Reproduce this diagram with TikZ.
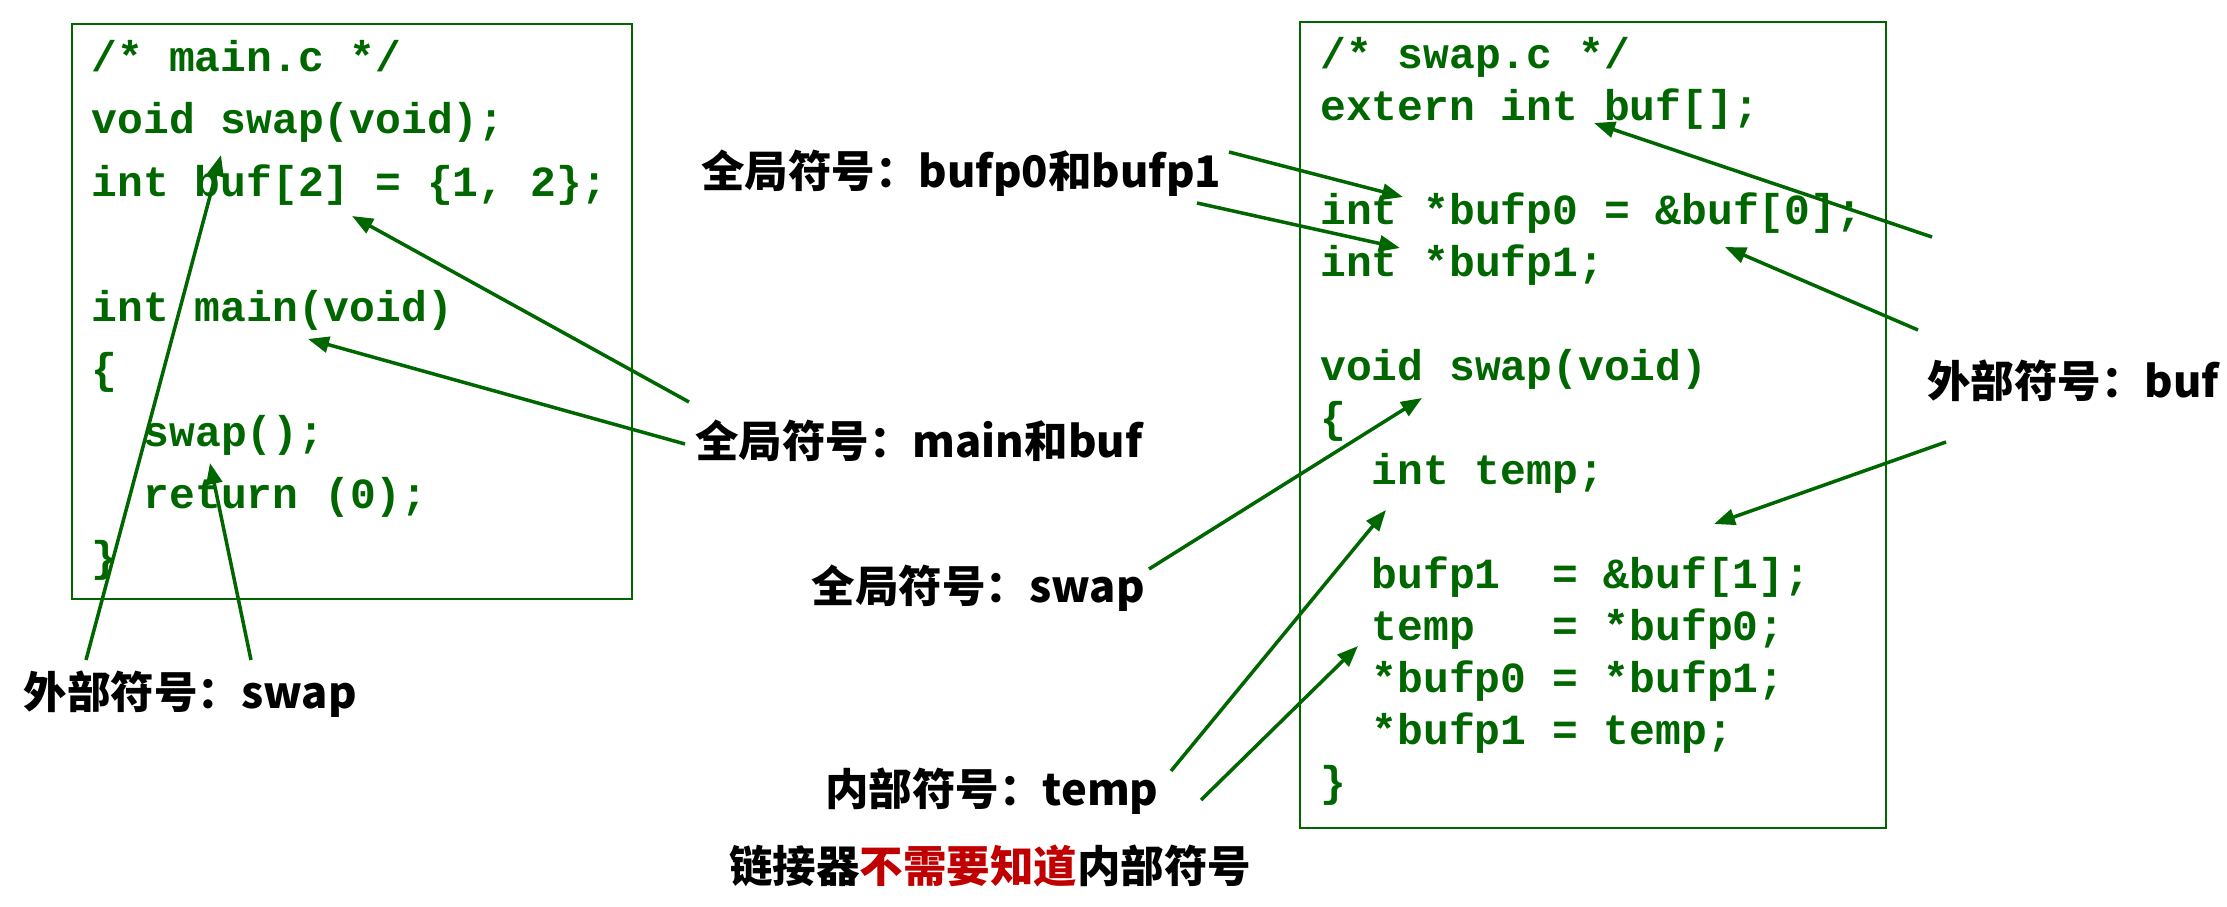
\documentclass[tikz,border=0pt]{standalone}
\usepackage{fontspec}
\usetikzlibrary{arrows.meta}
\newfontfamily\codefont{Liberation Mono}
\newfontfamily\cjkfont{Noto Sans CJK SC}
\definecolor{codegreen}{HTML}{006600}
\definecolor{notered}{HTML}{C00000}
\tikzset{
  codeline/.style={anchor=base west, inner sep=0pt, text=codegreen, font=\codefont\bfseries\fontsize{43}{43}\selectfont},
  lbl/.style={anchor=base west, inner sep=0pt, text=black, font=\cjkfont\bfseries\fontsize{43.5}{43.5}\selectfont},
  codebox/.style={draw=codegreen, line width=2.2pt},
  ptr/.style={draw=codegreen, line width=3.5pt, -{Triangle[length=21pt,width=16pt]}}
}
\begin{document}
\begin{tikzpicture}[x=1pt,y=-1pt]
\useasboundingbox (0,0) rectangle (2227,907);
% boxes
\draw[codebox] (72,24) rectangle (632,599);
\draw[codebox] (1300,22) rectangle (1886,828);
% main.c
\node[codeline] (m1) at (91.5,71) {/* main.c */};
\node[codeline] (m2) at (91.5,133.5) {void swap(void);};
\node[codeline] (m3) at (91.5,196) {int buf[2] = \{1, 2\};};
\node[codeline] (m4) at (91.5,321) {int main(void)};
\node[codeline] (m5) at (91.5,383.5) {\{};
\node[codeline] (m6) at (143.5,446) {swap();};
\node[codeline] (m7) at (143.5,508.5) {return (0);};
\node[codeline] (m8) at (91.5,571) {\}};
% swap.c
\node[codeline] (s1) at (1320,68) {/* swap.c */};
\node[codeline] (s2) at (1320,120) {extern int buf[];};
\node[codeline] (s3) at (1320,224) {int *bufp0 = \&buf[0];};
\node[codeline] (s4) at (1320,276) {int *bufp1;};
\node[codeline] (s5) at (1320,380) {void swap(void)};
\node[codeline] (s6) at (1320,432) {\{};
\node[codeline] (s7) at (1371.5,484) {int temp;};
\node[codeline] (s8) at (1371.5,588) {bufp1~~=~\&buf[1];};
\node[codeline] (s9) at (1371.5,640) {temp~~~=~*bufp0;};
\node[codeline] (s10) at (1371.5,692) {*bufp0 = *bufp1;};
\node[codeline] (s11) at (1371.5,744) {*bufp1 = temp;};
\node[codeline] (s12) at (1320,796) {\}};
% labels
\node[lbl] (lA) at (701,187) {全局符号：bufp0和bufp1};
\node[lbl] (lB) at (695,457) {全局符号：main和buf};
\node[lbl] (lC) at (811.5,602) {全局符号：swap};
\node[lbl] (lD) at (825,805) {内部符号：temp};
\node[lbl] (lE) at (729,882) {链接器\textcolor{notered}{不需要知道}内部符号};
\node[lbl] (lF) at (23.5,708) {外部符号：swap};
\node[lbl] (lG) at (1927,397) {外部符号：buf};
% arrow end points
\coordinate (a1s) at (86,660);   \coordinate (a1t) at (221,155);
\coordinate (a2s) at (251,660);  \coordinate (a2t) at (210,463);
\coordinate (a3s) at (689,402);  \coordinate (a3t) at (352,216);
\coordinate (a4s) at (685,444);  \coordinate (a4t) at (308,339);
\coordinate (a5s) at (1229,152); \coordinate (a5t) at (1403,197);
\coordinate (a6s) at (1197,203); \coordinate (a6t) at (1400,248);
\coordinate (a7s) at (1149,569); \coordinate (a7t) at (1422,398);
\coordinate (a8s) at (1171,771); \coordinate (a8t) at (1386,510);
\coordinate (a9s) at (1201,800); \coordinate (a9t) at (1358,646);
\coordinate (a10s) at (1932,237); \coordinate (a10t) at (1594,123);
\coordinate (a11s) at (1918,330); \coordinate (a11t) at (1725,247);
\coordinate (a12s) at (1946,442); \coordinate (a12t) at (1714,524);
\foreach \i in {1,...,12} \draw[ptr] (a\i s) -- (a\i t);
\end{tikzpicture}
\end{document}
